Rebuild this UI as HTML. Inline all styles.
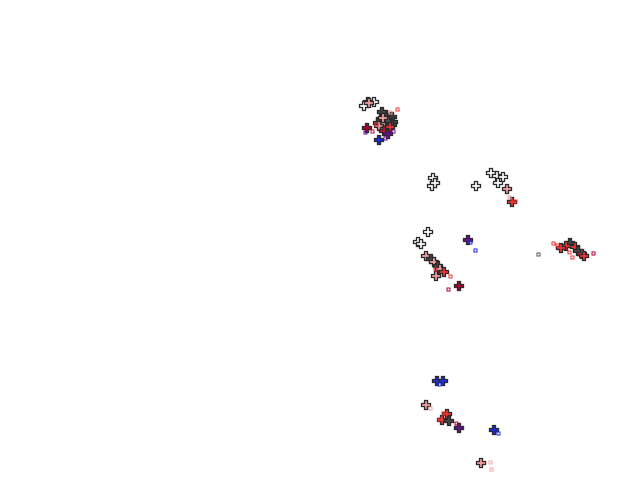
<!DOCTYPE html>
<html><head><meta charset="utf-8"><style>html,body{margin:0;padding:0;background:#fff}svg{display:block}</style></head><body>
<svg width="640" height="480" xmlns="http://www.w3.org/2000/svg">
<defs><path id="p" d="M-1.5,-4.5h3v3h3v3h-3v3h-3v-3h-3v-3h3z" stroke="#2a2a2a" stroke-width="1.3"/></defs>
<g>
<use href="#p" x="368" y="102" fill="#fff"/><use href="#p" x="374" y="102" fill="#fff"/><use href="#p" x="364" y="106" fill="#fff"/>
<use href="#p" x="369" y="103" fill="#f4a0a0"/>
<use href="#p" x="386" y="115" fill="#444"/><use href="#p" x="392" y="117" fill="#444"/><use href="#p" x="381" y="119" fill="#444"/>
<use href="#p" x="378" y="123" fill="#444"/><use href="#p" x="393" y="122" fill="#444"/><use href="#p" x="382" y="112" fill="#444"/>
<use href="#p" x="388" y="121" fill="#555"/><use href="#p" x="384" y="124" fill="#f4a0a0"/><use href="#p" x="392" y="125" fill="#444"/>
<use href="#p" x="379" y="126" fill="#f4a0a0"/><use href="#p" x="387" y="128" fill="#444"/><use href="#p" x="383" y="118" fill="#f4a0a0"/>
<use href="#p" x="390" y="127" fill="#e33"/><use href="#p" x="367" y="128" fill="#b00030"/><use href="#p" x="384" y="131" fill="#c01030"/>
<use href="#p" x="388" y="134" fill="#6a1090"/><use href="#p" x="379" y="140" fill="#1a2ae0"/>
<use href="#p" x="433" y="178" fill="#fff"/><use href="#p" x="432" y="186" fill="#fff"/><use href="#p" x="435" y="183" fill="#fff"/>
<use href="#p" x="476" y="186" fill="#fff"/><use href="#p" x="491" y="173" fill="#fff"/><use href="#p" x="497" y="176" fill="#fff"/>
<use href="#p" x="503" y="177" fill="#fff"/><use href="#p" x="498" y="183" fill="#fff"/><use href="#p" x="507" y="189" fill="#f4a0a0"/>
<use href="#p" x="512" y="202" fill="#e33"/>
<use href="#p" x="428" y="232" fill="#fff"/><use href="#p" x="418" y="242" fill="#fff"/><use href="#p" x="421" y="244" fill="#fff"/>
<use href="#p" x="426" y="256" fill="#f4a0a0"/><use href="#p" x="431" y="259" fill="#444"/><use href="#p" x="434" y="262" fill="#f4a0a0"/>
<use href="#p" x="438" y="266" fill="#444"/><use href="#p" x="440" y="269" fill="#f4a0a0"/><use href="#p" x="444" y="272" fill="#e33"/>
<use href="#p" x="436" y="276" fill="#f4a0a0"/><use href="#p" x="459" y="286" fill="#b00030"/><use href="#p" x="468" y="240" fill="#6a1090"/>
<use href="#p" x="570" y="243" fill="#444"/><use href="#p" x="566" y="246" fill="#e33"/><use href="#p" x="561" y="248" fill="#e33"/>
<use href="#p" x="575" y="247" fill="#e33"/><use href="#p" x="578" y="251" fill="#444"/><use href="#p" x="582" y="254" fill="#e33"/>
<use href="#p" x="584" y="256" fill="#e33"/>
<use href="#p" x="437" y="381" fill="#1a2ae0"/><use href="#p" x="443" y="381" fill="#1a2ae0"/>
<use href="#p" x="426" y="405" fill="#f4a0a0"/><use href="#p" x="447" y="414" fill="#e33"/><use href="#p" x="442" y="420" fill="#e33"/>
<use href="#p" x="449" y="421" fill="#444"/><use href="#p" x="459" y="428" fill="#6a1090"/><use href="#p" x="494" y="430" fill="#1a2ae0"/>
<use href="#p" x="481" y="463" fill="#f4a0a0"/>
</g>
<g fill="none" stroke-width="1">
<rect x="396" y="108" width="3" height="3" stroke="#e33"/><rect x="375" y="123" width="3" height="3" stroke="#e33"/>
<rect x="371" y="130" width="3" height="3" stroke="#c01030"/><rect x="364" y="131" width="3" height="3" stroke="#6a1090"/>
<rect x="392" y="130" width="3" height="3" stroke="#6a1090"/><rect x="384" y="137" width="3" height="3" stroke="#6a1090"/>
<rect x="389" y="111" width="3" height="3" stroke="#f4a0a0"/>
<rect x="508" y="196" width="3" height="3" stroke="#f4a0a0"/><rect x="514" y="200" width="3" height="3" stroke="#e33"/>
<rect x="474" y="249" width="3" height="3" stroke="#1a2ae0"/><rect x="434" y="268" width="3" height="3" stroke="#e33"/>
<rect x="447" y="288" width="3" height="3" stroke="#b00030"/><rect x="449" y="275" width="3" height="3" stroke="#e33"/>
<rect x="469" y="241" width="3" height="3" stroke="#1a2ae0"/>
<rect x="552" y="242" width="3" height="3" stroke="#e33"/><rect x="556" y="244" width="3" height="3" stroke="#e33"/>
<rect x="537" y="253" width="3" height="3" stroke="#555"/><rect x="592" y="252" width="3" height="3" stroke="#b00030"/>
<rect x="571" y="256" width="3" height="3" stroke="#e33"/><rect x="568" y="251" width="3" height="3" stroke="#e33"/>
<rect x="438" y="383" width="3" height="3" stroke="#1a2ae0"/><rect x="442" y="412" width="3" height="3" stroke="#e33"/>
<rect x="438" y="418" width="3" height="3" stroke="#e33"/><rect x="455" y="422" width="3" height="3" stroke="#b00030"/>
<rect x="497" y="432" width="3" height="3" stroke="#1a2ae0"/><rect x="429" y="407" width="3" height="3" stroke="#f4a0a0"/>
<rect x="489" y="461" width="3" height="3" stroke="#f4a0a0"/><rect x="490" y="468" width="3" height="3" stroke="#f4a0a0"/>
</g>
</svg>
</body></html>
